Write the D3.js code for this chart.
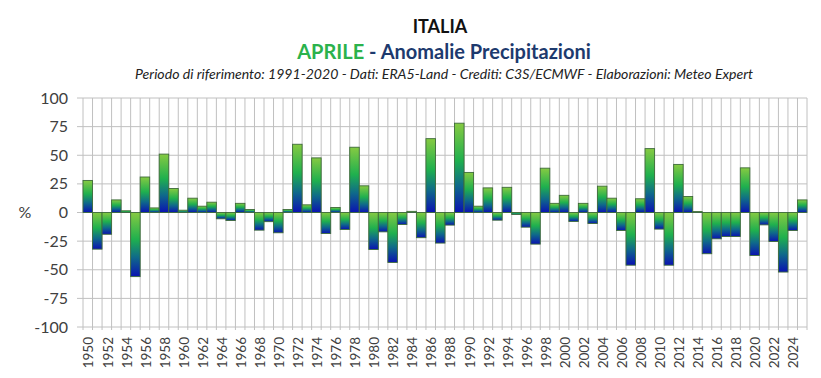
<!DOCTYPE html>
<html><head><meta charset="utf-8">
<script src="https://cdn.jsdelivr.net/npm/d3@7"></script>
<style>body{margin:0;background:#fff}svg{display:block}</style>
</head><body>
<script>
const years = d3.range(1950, 2026);
const values = [28,-32,-19,11,1.5,-56,31,4,51,21,2,12.5,5.5,9,-5.5,-7,8,2.6,-15.4,
  -8,-17.7,2.6,59.6,6.7,47.7,-18.3,4.4,-14.8,57,23.3,-32.3,-16.9,-43.6,-10.5,1,-22,64.5,-26.7,
  -11,78,35,5.5,21.5,-6.7,22,-1.7,-12.8,-27.6,38.7,8,15,-7.8,8,-9.6,23,12.5,-15.7,
  -46,12,55.8,-14.5,-46,42,14,0.8,-36,-23,-21,-21,39,-37.5,-10.8,-25.3,-52,-15.7,11];
const yTicks = [100,75,50,25,0,-25,-50,-75,-100];
const xLabels = years.filter(y => y % 2 === 0);
const title = "ITALIA";
const subtitleA = "APRILE";
const subtitleB = " - Anomalie Precipitazioni";
const note = "Periodo di riferimento: 1991-2020 - Dati: ERA5-Land - Crediti: C3S/ECMWF - Elaborazioni: Meteo Expert";

const W = 821, H = 378;
const svg = d3.select("body").append("svg").attr("width", W).attr("height", H)
  .style("font-family", "Lato, 'Open Sans', sans-serif");

const defs = svg.append("defs");
const g = defs.append("linearGradient").attr("id","barGrad")
  .attr("x1",0).attr("y1",0).attr("x2",0).attr("y2",1);
[[0,"#86ca42"],[0.42,"#1fb04e"],[0.7,"#0f6a8a"],[1,"#0a12b2"]].forEach(([o,c]) =>
  g.append("stop").attr("offset",o).attr("stop-color",c));

const x = d3.scaleBand().domain(years).range([83, 807]).padding(0);
const y = d3.scaleLinear().domain([-100, 100]).range([327, 98]);

// horizontal grid + y ticks
svg.append("g").selectAll("line").data(yTicks).join("line")
  .attr("x1", 77).attr("x2", 807)
  .attr("y1", d => y(d)).attr("y2", d => y(d))
  .attr("stroke", "#c0c0c0").attr("stroke-width", 1);
// vertical grid at band boundaries
const bounds = years.map(v => x(v)).concat([x.range()[1]]);
svg.append("g").selectAll("line").data(bounds).join("line")
  .attr("x1", d => d).attr("x2", d => d)
  .attr("y1", y(100)).attr("y2", y(-100) + 3)
  .attr("stroke", "#c0c0c0").attr("stroke-width", 1);

// bars
svg.append("g").selectAll("rect").data(values).join("rect")
  .attr("x", (d,i) => x(years[i]))
  .attr("width", x.bandwidth())
  .attr("y", d => y(Math.max(0, d)))
  .attr("height", d => Math.abs(y(d) - y(0)))
  .attr("fill", "url(#barGrad)")
  .attr("stroke", "#3d6b3a").attr("stroke-width", 0.9);

// y labels
svg.append("g").selectAll("text").data(yTicks).join("text")
  .attr("x", 68).attr("y", d => y(d)).attr("dy", "0.35em")
  .attr("text-anchor", "end").attr("font-size", 16).attr("fill", "#404040")
  .text(d => d);
svg.append("text").attr("x", 25).attr("y", y(0)).attr("dy","0.35em")
  .attr("text-anchor","middle").attr("font-size",16).attr("fill","#404040").text("%");

// x labels
svg.append("g").selectAll("text").data(xLabels).join("text")
  .attr("transform", d => `translate(${x(d) + x.bandwidth()/2 + 1},337) rotate(-90)`)
  .attr("dy", "0.35em").attr("text-anchor", "end")
  .attr("font-size", 13.5).attr("fill", "#404040").text(d => d);

// titles
svg.append("text").attr("x", 440).attr("y", 33).attr("text-anchor","middle")
  .attr("font-size", 18).attr("font-weight","bold").attr("fill","#111").text(title);
const t2 = svg.append("text").attr("x", 444).attr("y", 59).attr("text-anchor","middle")
  .attr("font-size", 20).attr("font-weight","bold");
t2.append("tspan").attr("fill","#2bb24c").text(subtitleA);
t2.append("tspan").attr("fill","#1d3a6e").text(subtitleB);
svg.append("text").attr("x", 444).attr("y", 79).attr("text-anchor","middle")
  .attr("font-size", 12.5).attr("font-style","italic").attr("fill","#222")
  .attr("textLength", 618).attr("lengthAdjust","spacingAndGlyphs").text(note);
</script>
</body></html>
